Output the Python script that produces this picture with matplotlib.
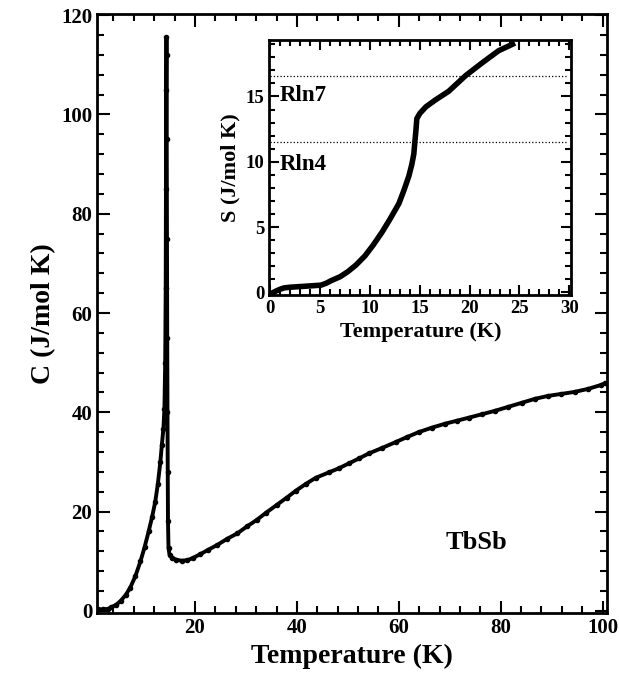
import matplotlib
matplotlib.use('Agg')
import matplotlib.pyplot as plt
from matplotlib.ticker import MultipleLocator

plt.rcParams['font.family'] = ['Liberation Serif', 'DejaVu Serif']
plt.rcParams['font.weight'] = 'bold'

# 比热 C(T)
temp = [1.0, 2.0, 3.0, 3.5, 4.5, 5.4, 6.4, 7.3, 8.3, 9.3, 10.1, 10.9, 11.6,
        12.2, 12.7, 13.2, 13.5, 13.8, 14.0, 14.15, 14.25, 14.3, 14.35, 14.4,
        14.42, 14.45, 14.5, 14.55, 14.6, 14.65, 14.7, 14.8, 15.0, 15.5, 16.3,
        17.4, 18.5, 19.7, 21.0, 22.6, 24.4, 26.3, 28.3, 30.2, 32.1, 34.0,
        36.0, 38.0, 39.8, 41.8, 43.7, 46.3, 48.2, 50.2, 52.2, 54.1, 56.7,
        59.4, 61.6, 63.9, 66.5, 69.1, 71.4, 73.7, 76.3, 78.9, 81.5, 84.1,
        86.7, 89.3, 91.9, 94.5, 97.1, 99.7, 100.4]
heat = [0.3, 0.3, 0.4, 0.7, 1.2, 2.0, 3.2, 4.7, 7.0, 10.0, 12.8, 16.0, 19.0,
        22.0, 25.5, 30.0, 33.5, 36.7, 40.7, 50.0, 65.0, 85.0, 105.0, 115.5,
        112.0, 95.0, 75.0, 55.0, 40.0, 28.0, 18.0, 12.7, 11.3, 10.7, 10.3,
        10.1, 10.2, 10.7, 11.4, 12.3, 13.3, 14.5, 15.6, 17.0, 18.3, 19.8,
        21.3, 22.8, 24.2, 25.6, 26.8, 27.9, 28.7, 29.7, 30.7, 31.7, 32.8,
        34.0, 35.0, 36.0, 36.9, 37.7, 38.3, 38.9, 39.6, 40.3, 41.1, 41.9,
        42.7, 43.3, 43.7, 44.1, 44.7, 45.5, 45.8]

# 熵 S(T)
temp_s = [0.3, 0.7, 1.0, 1.4, 2.0, 3.0, 4.0, 5.1, 5.6, 6.1, 7.0, 7.8, 8.6,
          9.5, 10.3, 11.2, 12.0, 12.9, 13.4, 13.9, 14.2, 14.4, 14.5, 14.6,
          14.7, 15.0, 15.6, 16.5, 17.9, 19.6, 21.3, 22.9, 24.3]
entropy = [0.0, 0.15, 0.25, 0.35, 0.4, 0.45, 0.5, 0.56, 0.7, 0.9, 1.2, 1.6,
           2.1, 2.8, 3.6, 4.6, 5.6, 6.8, 7.8, 8.9, 9.8, 10.6, 11.5, 12.3,
           13.3, 13.7, 14.2, 14.7, 15.4, 16.6, 17.6, 18.5, 19.0]
levels = [11.5, 16.6]
level_labels = ['Rln4', 'Rln7']


def style_axes(ax, xmaj, xmin, ymaj, ymin, size, major_len, minor_len):
    ax.xaxis.set_major_locator(MultipleLocator(xmaj))
    ax.xaxis.set_minor_locator(MultipleLocator(xmin))
    ax.yaxis.set_major_locator(MultipleLocator(ymaj))
    ax.yaxis.set_minor_locator(MultipleLocator(ymin))
    ax.tick_params(which='both', direction='in', top=True, right=True,
                   labelsize=size, width=1.5)
    ax.tick_params(which='major', length=major_len)
    ax.tick_params(which='minor', length=minor_len)
    for s in ax.spines.values():
        s.set_linewidth(2)


fig = plt.figure(figsize=(6.19, 6.83), dpi=100)
ax = fig.add_axes([0.157, 0.102, 0.823, 0.878])
ax.plot(temp, heat, '-o', color='black', lw=2.8, ms=3)
ax.set_xlim(0.8, 100.8)
ax.set_ylim(-0.5, 120.3)
style_axes(ax, 20, 4, 20, 4, 15, 9, 5)
ax.set_xlabel('Temperature (K)', fontsize=20, fontweight='bold')
ax.set_ylabel('C (J/mol K)', fontsize=20, fontweight='bold')
ax.text(75.2, 13.7, 'TbSb', fontsize=19, fontweight='bold',
        ha='center', va='center')

# 插图
ins = fig.add_axes([0.435, 0.568, 0.488, 0.373])
for lv in levels:
    ins.plot([0, 29.8], [lv, lv], ':', color='black', lw=0.9)
ins.plot(temp_s, entropy, '-', color='black', lw=4)
ins.set_xlim(-0.1, 30.2)
ins.set_ylim(-0.2, 19.3)
style_axes(ins, 5, 1, 5, 1, 13.5, 7, 4)
ins.set_xlabel('Temperature (K)', fontsize=16, fontweight='bold')
ins.set_ylabel('S (J/mol K)', fontsize=16, fontweight='bold')
ins.text(0.9, 9.8, level_labels[0], fontsize=16.5, fontweight='bold',
         va='center')
ins.text(0.9, 15.1, level_labels[1], fontsize=16.5, fontweight='bold',
         va='center')

fig.savefig('out.png', dpi=100)
